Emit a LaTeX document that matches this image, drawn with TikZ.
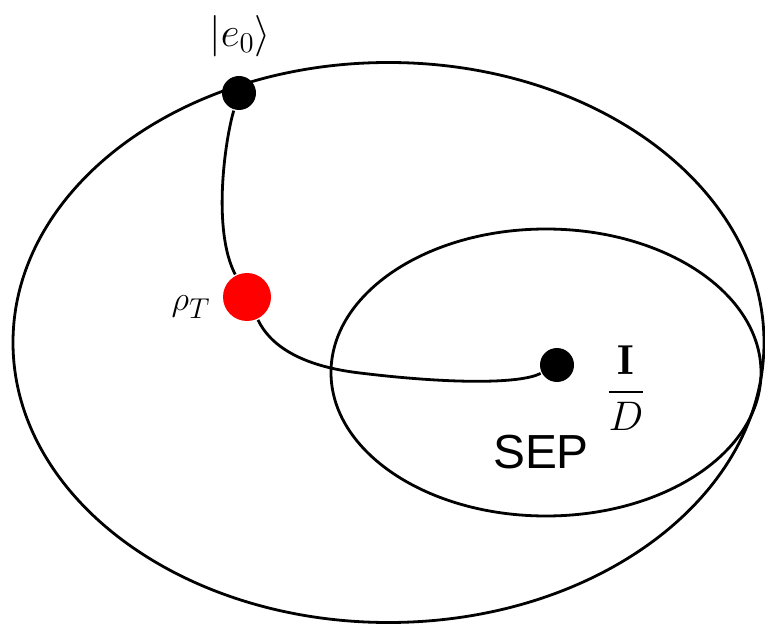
\documentclass[tikz,border=0pt]{standalone}
\usepackage{amsmath,amssymb}
\usepackage{xcolor}
\usepackage{fontspec}
\newfontfamily\sepfont{Liberation Sans}
\usepackage{tikz}

\begin{document}
\begin{tikzpicture}[x=0.5bp,y=-0.5bp,line width=1.4bp,
    dot/.style={circle,fill=black,inner sep=0pt,minimum size=17bp},
    reddot/.style={circle,fill=red,inner sep=0pt,minimum size=24bp},
    mathlabel/.style={inner sep=0pt,font=\fontsize{19}{23}\selectfont}]
  \useasboundingbox (0,0) rectangle (765,624);
  % the two sets
  \draw (388.5,342.5) ellipse [x radius=375.5, y radius=-280];
  \draw (546,372.5) ellipse [x radius=215, y radius=-143.5];
  % the states
  \node[dot] (e0) at (239,93) {};
  \node[reddot] (rho) at (247,297) {};
  \node[dot] (id) at (557,365) {};
  \coordinate (mid) at (360,373);
  \draw (e0) .. controls (225,140) and (212,230) .. (rho);
  \draw (rho) .. controls (270,345) and (300,366) .. (mid)
              .. controls (450,384) and (520,384) .. (id);
  % labels
  \node[mathlabel,font=\fontsize{21}{25}\selectfont] (e0lab) at (240,36) {$\left|e_{0}\right\rangle$};
  \node[mathlabel] (rholab) at (191,307) {$\rho_{T}$};
  \node[mathlabel,font=\fontsize{21}{25}\selectfont] (idlab) at (626,388) {$\dfrac{\mathbf{I}}{D}$};
  \node[inner sep=0pt,font=\sepfont\fontsize{24}{28}\selectfont] (sep) at (541,452) {SEP};
\end{tikzpicture}
\end{document}
